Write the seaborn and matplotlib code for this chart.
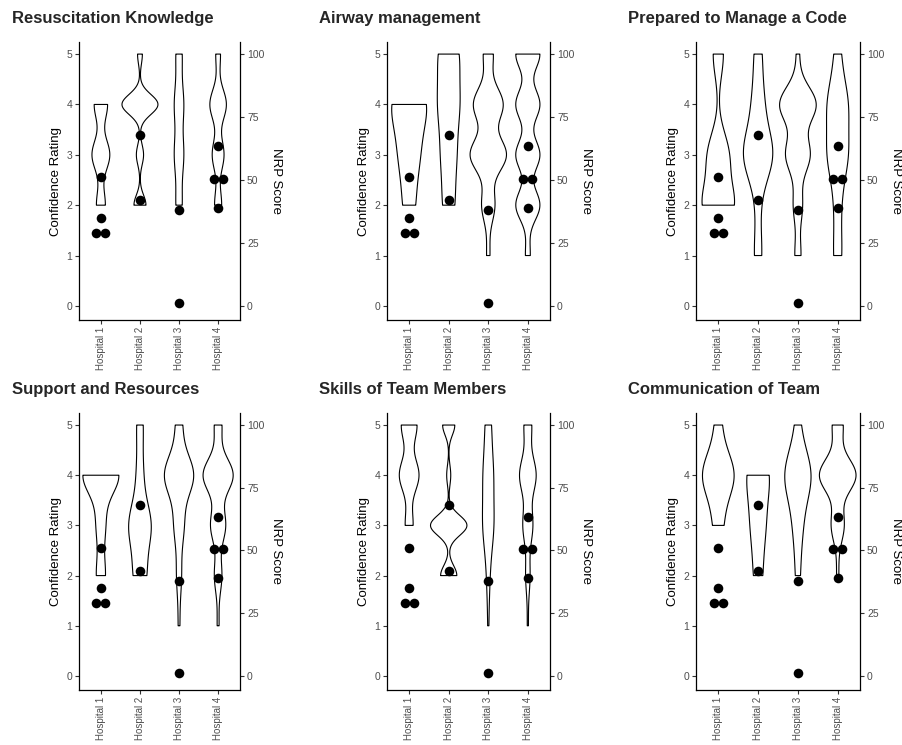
import numpy as np
import pandas as pd
import matplotlib
matplotlib.use("Agg")
import matplotlib.pyplot as plt
import seaborn as sns

sns.set_theme(style="white")
plt.rcParams['font.family'] = ['Liberation Sans', 'DejaVu Sans']

hospitals = ["Hospital 1", "Hospital 2", "Hospital 3", "Hospital 4"]
levels = [1, 2, 3, 4, 5]

# number of answers at rating 1..5 for each hospital (estimated from violin shapes)
resus_knowledge = [[0, 2, 4, 3, 0], [0, 5, 3, 15, 2], [0, 2, 3, 3, 2], [0, 3, 5, 7, 2]]
airway_mgmt = [[0, 3, 5, 9, 0], [0, 4, 5, 7, 7], [1, 4, 11, 9, 3], [1, 5, 5, 5, 5]]
prepared_code = [[0, 6, 4, 0, 2], [2, 1, 8, 3, 2], [2, 3, 8, 12, 1], [4, 3, 10, 10, 3]]
support_resources = [[0, 1, 1, 4, 0], [0, 4, 7, 2, 2], [1, 3, 6, 18, 4], [1, 4, 8, 16, 4]]
team_skills = [[0, 0, 2, 5, 4], [0, 4, 9, 1, 3], [1, 3, 11, 10, 6], [1, 4, 9, 15, 7]]
team_communication = [[0, 0, 3, 10, 2], [0, 3, 5, 8, 0], [0, 1, 2, 6, 1], [0, 1, 6, 17, 5]]

# kernel bandwidth (rating units) used for each violin
resus_bw = [0.30, 0.20, 0.40, 0.30]
airway_bw = [0.50, 0.50, 0.33, 0.30]
prepared_bw = [0.45, 0.50, 0.35, 0.50]
support_bw = [0.38, 0.45, 0.40, 0.33]
skills_bw = [0.32, 0.20, 0.50, 0.35]
communication_bw = [0.45, 0.50, 0.50, 0.33]

titles = ["Resuscitation Knowledge", "Airway management", "Prepared to Manage a Code",
          "Support and Resources", "Skills of Team Members", "Communication of Team"]
panels = [resus_knowledge, airway_mgmt, prepared_code,
          support_resources, team_skills, team_communication]
bandwidths = [resus_bw, airway_bw, prepared_bw, support_bw, skills_bw, communication_bw]

# NRP scores per hospital (right axis)
nrp_scores = [[51, 35, 29, 29], [68, 42], [38, 1], [63.5, 50.5, 50.5, 39]]

nrp_df = pd.DataFrame({
    "hospital": np.repeat(hospitals, [len(s) for s in nrp_scores]),
    "nrp": np.concatenate(nrp_scores),
})
# centre stacked duplicates like a dot plot
dot_step = 0.23
nrp_df["pos"] = nrp_df["hospital"].map({h: k for k, h in enumerate(hospitals)})
grp = nrp_df.groupby(["hospital", "nrp"])
nrp_df["x"] = nrp_df["pos"] + (grp.cumcount() - (grp["nrp"].transform("size") - 1) / 2) * dot_step

bw_lookup = {}


def kernel_bw(kde):
    x = kde.dataset[0]
    return bw_lookup[tuple(np.sort(x))] / np.std(x, ddof=1)


W, H = 902, 745
fig = plt.figure(figsize=(W / 100, H / 100), dpi=100)

col_left = [79, 387, 696]
col_right = [240, 550, 860]
row_top = [42, 413]
row_bottom = [320, 690]
title_x = [12, 319, 628]
title_y = [19, 389]
grey = "#4d4d4d"

for i, (title, counts, bws) in enumerate(zip(titles, panels, bandwidths)):
    r, c = divmod(i, 3)
    l, rr, t, b = col_left[c], col_right[c], row_top[r], row_bottom[r]
    ax = fig.add_axes([l / W, 1 - b / H, (rr - l) / W, (b - t) / H])

    ratings = [np.repeat(levels, cn).astype(float) for cn in counts]
    bw_lookup.clear()
    for vals, bw in zip(ratings, bws):
        bw_lookup[tuple(np.sort(vals))] = bw

    df = pd.DataFrame({
        "hospital": np.repeat(hospitals, [len(v) for v in ratings]),
        "rating": np.concatenate(ratings),
    })
    sns.violinplot(data=df, x="hospital", y="rating", order=hospitals, ax=ax,
                   fill=False, color="black", inner=None, cut=0, gridsize=300,
                   density_norm="area", bw_method=kernel_bw,
                   width=0.92, linewidth=0.8)

    ax2 = ax.twinx()
    sns.scatterplot(data=nrp_df, x="x", y="nrp", ax=ax2, color="black",
                    s=48, linewidth=0, legend=False)

    ax.set_xlim(-0.56, 3.56)
    ax.set_ylim(-0.28, 5.24)
    ax2.set_ylim(-5.6, 104.8)
    ax.set_yticks([0, 1, 2, 3, 4, 5])
    ax2.set_yticks([0, 25, 50, 75, 100])
    ax.set_xticks(range(4))
    ax.set_xticklabels(hospitals, rotation=90)
    ax.set_xlabel("")
    ax2.set_xlabel("")

    for s in ["top", "right"]:
        ax.spines[s].set_visible(False)
    for s in ["top", "left", "bottom"]:
        ax2.spines[s].set_visible(False)
    for a in (ax, ax2):
        for s in a.spines.values():
            s.set_linewidth(0.9)
            s.set_color("black")
        a.tick_params(length=3, width=0.8, color="#333333", labelcolor=grey,
                      labelsize=7.5, pad=2)
    ax.tick_params(axis="x", labelsize=7, bottom=True)
    ax.tick_params(axis="y", left=True)
    ax2.tick_params(axis="y", right=True)

    w_px = rr - l
    ax.set_ylabel("Confidence Rating", fontsize=9.5, color="black")
    ax.yaxis.set_label_coords(-17 / w_px, 0.5)
    ax2.set_ylabel("NRP Score", fontsize=9.5, color="black", rotation=270, va="bottom")
    ax2.yaxis.set_label_coords(1 + 30 / w_px, 0.5)

    fig.text(title_x[c] / W, 1 - title_y[r] / H, title, fontsize=12,
             fontweight="bold", ha="left", va="center")

fig.savefig("out.png", dpi=100)
